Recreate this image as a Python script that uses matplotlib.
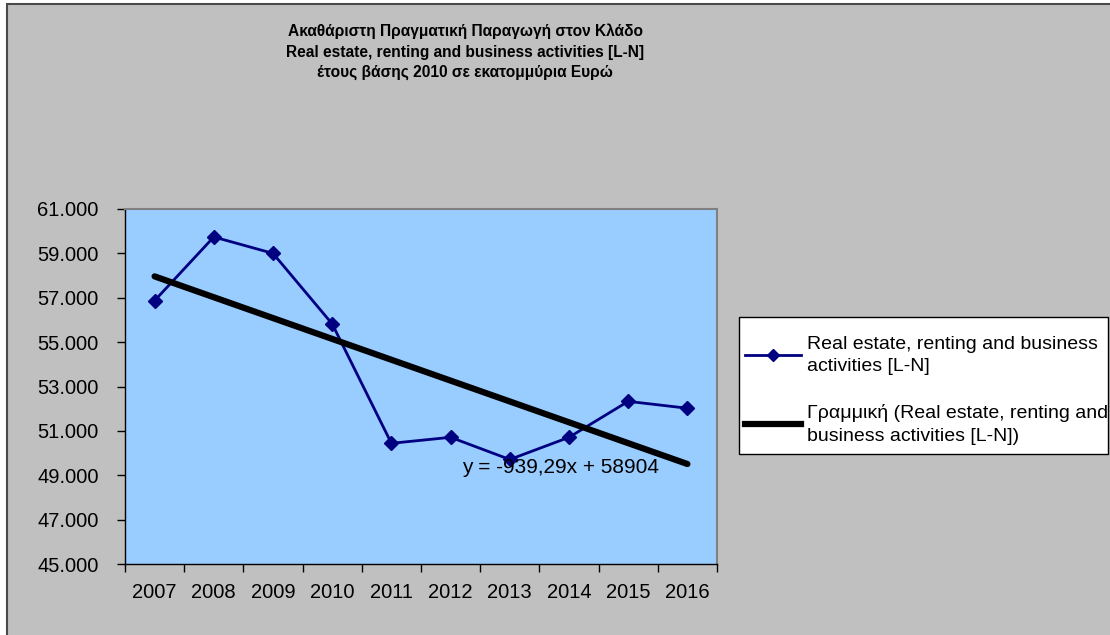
import numpy as np
import matplotlib
matplotlib.use('Agg')
from matplotlib import pyplot as plt
from matplotlib.patches import Rectangle
from matplotlib.lines import Line2D
from matplotlib.ticker import FuncFormatter, FixedLocator

plt.rcParams['font.family'] = ['Liberation Sans', 'DejaVu Sans']

years = ['2007', '2008', '2009', '2010', '2011', '2012', '2013', '2014', '2015', '2016']
values = [56870, 59740, 59000, 55820, 50440, 50710, 49710, 50710, 52330, 52020]
title_lines = ['Ακαθάριστη Πραγματική Παραγωγή στον Κλάδο',
               'Real estate, renting and business activities [L-N]',
               'έτους βάσης 2010 σε εκατομμύρια Ευρώ']
series_label = 'Real estate, renting and business\nactivities [L-N]'
trend_label = 'Γραμμική (Real estate, renting and\nbusiness activities [L-N])'
equation = 'y = -939,29x + 58904'
yticks = [45000, 47000, 49000, 51000, 53000, 55000, 57000, 59000, 61000]

W, H = 1110, 635
fig = plt.figure(figsize=(W / 100, H / 100), dpi=100)
fig.patch.set_facecolor('white')

# chart area (grey, clipped at right/bottom like the original)
fig.patches.append(Rectangle((7 / W, -0.05), 1.1, 1.05 - 4 / H, transform=fig.transFigure,
                             facecolor='#C0C0C0', edgecolor='#4a4a4a', lw=1.5, zorder=-2))

fig.text(465 / W, 1 - 52 / H, '\n'.join(title_lines), ha='center', va='center',
         fontsize=11.2, fontweight='bold', linespacing=1.45)

# plot area
ax = fig.add_axes([125 / W, 1 - 564 / H, 592 / W, 355 / H])
ax.set_facecolor('#99CCFF')
x = np.arange(len(years))
ax.plot(x, values, color='#000080', lw=2, marker='D', ms=7, zorder=3)
k, b = np.polyfit(x + 1, values, 1)
ax.plot(x, k * (x + 1) + b, color='black', lw=4.5, solid_capstyle='round', zorder=4)
ax.text(5.19, 49370, equation, fontsize=15, va='center', ha='left', zorder=5)

ax.set_xlim(-0.5, len(years) - 0.5)
ax.set_ylim(45000, 61000)
ax.set_xticks(x)
ax.set_xticklabels(years)
ax.xaxis.set_minor_locator(FixedLocator(np.arange(-0.5, len(years), 1.0)))
ax.tick_params(axis='x', which='major', length=0, pad=14, labelsize=14.5)
ax.tick_params(axis='x', which='minor', length=6, width=1, direction='out')
ax.set_yticks(yticks)
ax.yaxis.set_major_formatter(FuncFormatter(lambda v, p: f'{v:,.0f}'.replace(',', '.')))
ax.tick_params(axis='y', length=6, width=1, direction='out', pad=13, labelsize=14.5)
for s in ['left', 'bottom']:
    ax.spines[s].set_color('black')
    ax.spines[s].set_linewidth(1)
for s in ['top', 'right']:
    ax.spines[s].set_color('#808080')
    ax.spines[s].set_linewidth(1.5)

# legend box
fig.patches.append(Rectangle((739 / W, 1 - 454 / H), 369 / W, 137 / H, transform=fig.transFigure,
                             facecolor='white', edgecolor='black', lw=1, zorder=1))
handles = [Line2D([], [], color='#000080', lw=2, marker='D', ms=6),
           Line2D([], [], color='black', lw=4.5)]
leg = fig.legend(handles, [series_label, trend_label], loc='upper left',
                 bbox_to_anchor=(745 / W, 1 - 336 / H), frameon=False, fontsize=14,
                 handlelength=2.9, handletextpad=0.3, labelspacing=1.5, borderpad=0,
                 borderaxespad=0)
for t in leg.get_texts():
    t.set_linespacing(1.4)

fig.savefig('out.png', dpi=100, facecolor=fig.get_facecolor())
